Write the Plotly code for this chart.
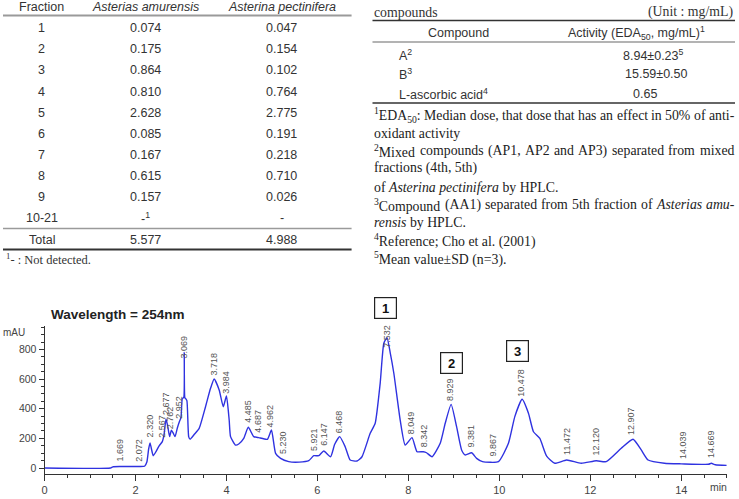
import re
import numpy as np
import plotly.graph_objects as go

W, H = 739, 499

# ---------------- Table 1 data ----------------
t1_header = ["Fraction", "<i>Asterias amurensis</i>", "<i>Asterina pectinifera</i>"]
fractions = ["1", "2", "3", "4", "5", "6", "7", "8", "9", "10-21"]
amurensis = ["0.074", "0.175", "0.864", "0.810", "2.628", "0.085", "0.167", "0.615", "0.157", "-<sup>1</sup>"]
pectinifera = ["0.047", "0.154", "0.102", "0.764", "2.775", "0.191", "0.218", "0.710", "0.026", "-"]
totals = ["Total", "5.577", "4.988"]
t1_note = "<sup>1</sup>- : Not detected."

# ---------------- Table 2 data ----------------
t2_caption = "compounds"
t2_unit = "(Unit : mg/mL)"
t2_header = ["Compound", "Activity (EDA<sub>50</sub>, mg/mL)<sup>1</sup>"]
compounds = ["A<sup>2</sup>", "B<sup>3</sup>", "L-ascorbic acid<sup>4</sup>"]
activities = ["8.94±0.23<sup>5</sup>", "15.59±0.50", "0.65"]
t2_notes = [
    "<sup>1</sup>EDA<sub>50</sub>: Median dose, that dose that has an effect in 50% of anti-",
    "oxidant activity",
    "<sup>2</sup>Mixed compounds (AP1, AP2 and AP3) separated from mixed",
    "fractions (4th, 5th)",
    "of <i>Asterina pectinifera</i> by HPLC.",
    "<sup>3</sup>Compound (AA1) separated from 5th fraction of <i>Asterias amu-</i>",
    "<i>rensis</i> by HPLC.",
    "<sup>4</sup>Reference; Cho et al. (2001)",
    "<sup>5</sup>Mean value±SD (n=3).",
]
t2_justified = [True, False, True, False, False, True, False, False, False]

# ---------------- Chromatogram data ----------------
rt = [0, 1.45, 1.5, 1.67, 2.07, 2.2, 2.25, 2.29, 2.32, 2.35, 2.39, 2.45, 2.52, 2.59, 2.63,
      2.67, 2.71, 2.75, 2.79, 2.83, 2.87, 2.92, 2.97, 3.0, 3.03, 3.06, 3.072, 3.085, 3.1, 3.13,
      3.17, 3.2, 3.3, 3.4, 3.54, 3.65, 3.73, 3.84, 3.93, 4.0, 4.06, 4.09, 4.2, 4.27, 4.38,
      4.48, 4.6, 4.71, 4.9, 4.99, 5.08, 5.19, 5.37, 5.6, 5.81, 5.92, 6.03, 6.14, 6.29, 6.38,
      6.49, 6.61, 6.72, 6.87, 6.98, 7.16, 7.27, 7.38, 7.46, 7.53, 7.6, 7.68, 7.82, 7.93, 8.08,
      8.19, 8.33, 8.4, 8.52, 8.7, 8.81, 8.94, 9.06, 9.17, 9.25, 9.39, 9.5, 9.63, 9.98, 10.2,
      10.34, 10.5, 10.64, 10.75, 10.89, 11.04, 11.22, 11.48, 11.8, 12.13, 12.35, 12.68, 12.94,
      13.12, 13.27, 13.63, 14.0, 14.6, 14.66, 14.75, 15.0]
mau = [0, 0, 8, 10, 10, 12, 40, 130, 170, 130, 83, 110, 150, 178, 230,
       331, 280, 212, 255, 235, 212, 270, 317, 340, 470, 475, 780, 475, 470, 455,
       210, 195, 230, 268, 414, 538, 601, 527, 414, 486, 324, 212, 155, 162, 200,
       275, 212, 205, 194, 257, 99, 65, 43, 40, 50, 83, 83, 115, 76, 160,
       212, 144, 54, 47, 76, 234, 302, 572, 843, 880, 780, 640, 324, 155, 205,
       110, 110, 103, 76, 167, 302, 430, 279, 122, 88, 103, 65, 43, 43, 167,
       347, 464, 370, 245, 200, 80, 32, 54, 32, 49, 43, 133, 194,
       122, 54, 32, 28, 25, 32, 22, 18]
peak_rt = [1.669, 2.072, 2.320, 2.567, 2.677, 2.762, 2.952, 3.069, 3.718, 3.984, 4.485,
           4.687, 4.962, 5.230, 5.921, 6.147, 6.468, 7.532, 8.049, 8.342, 8.929, 9.381,
           9.867, 10.478, 11.472, 12.120, 12.907, 14.039, 14.669]
peak_lbl = ["1.669", "2.072", "2.320", "2.567", "2.677", "2.762", "2.952", "3.069", "3.718",
            "3.984", "4.485", "4.687", "4.962", "5.230", "5.921", "6.147", "6.468", "7.532",
            "8.049", "8.342", "8.929", "9.381", "9.867", "10.478", "11.472", "12.120",
            "12.907", "14.039", "14.669"]
box_labels = ["1", "2", "3"]
x_ticks = [0, 2, 4, 6, 8, 10, 12, 14]
y_ticks = [0, 200, 400, 600, 800]


def px(x):
    return x / W


def py(y):
    return 1 - y / H


SANS = "Liberation Sans, Arial, sans-serif"
SERIF = "Liberation Serif, Times New Roman, serif"
anns = []
shapes = []


def txt(x, y, s, size=12.5, color="#333", family=SANS, xanchor="center", **kw):
    anns.append(dict(x=px(x), y=py(y), xref="paper", yref="paper", text=s, showarrow=False,
                     xanchor=xanchor, yanchor="middle",
                     font=dict(size=size, color=color, family=family), **kw))


def hline(x0, x1, y, color="#888", width=1.5):
    shapes.append(dict(type="line", xref="paper", yref="paper", x0=px(x0), x1=px(x1),
                       y0=py(y), y1=py(y), line=dict(color=color, width=width)))


# Times-like advance widths (per 1000 em) for laying out justified lines
_TW = {' ': 250, '(': 333, ')': 333, ',': 250, '-': 333, '.': 250, ':': 278, ';': 278,
       '%': 833, '±': 564, '=': 564}
for c in '0123456789':
    _TW[c] = 500
_TW.update(dict(A=722, B=667, C=667, D=722, E=611, F=556, H=722, L=611, M=889, P=556, S=556))
_TW.update(dict(a=444, b=500, c=444, d=500, e=444, f=333, g=500, h=500, i=278, k=500, l=278,
                m=778, n=500, o=500, p=500, r=333, s=389, t=278, u=500, v=500, w=722, x=500,
                y=500))


def text_width(s, size):
    w = 0.0
    for part in re.split(r"(<sup>.*?</sup>|<sub>.*?</sub>)", s):
        scale = 1.0
        if part.startswith("<sup>") or part.startswith("<sub>"):
            scale = 0.7
        plain = re.sub(r"<[^>]+>", "", part)
        for ch in plain:
            w += _TW.get(ch, 500) * scale
    return w * size / 1000.0


def justify(x0, x1, y, s, size, color, family):
    # keep italic tags balanced per word
    words = s.split(" ")
    fixed = []
    in_i = False
    for wd in words:
        starts = in_i
        if "<i>" in wd:
            in_i = True
        if "</i>" in wd:
            in_i = False
        w2 = wd
        if starts and "<i>" not in wd:
            w2 = "<i>" + w2
        if in_i and "</i>" not in wd:
            w2 = w2 + "</i>"
        fixed.append(w2)
    widths = [text_width(w, size) for w in fixed]
    gap = (x1 - x0 - sum(widths)) / max(len(fixed) - 1, 1)
    cur = x0
    for wd, wdt in zip(fixed, widths):
        txt(cur - 1, y, wd, size=size, family=family, xanchor="left", color=color)
        cur += wdt + gap


# ---- Table 1 ----
col_x = [39, 143, 280]
for cx, h in zip(col_x, t1_header):
    txt(cx, 7.5, h)
hline(0, 350, 15.5, "#9a9a9a", 1.8)
for i in range(len(fractions)):
    yy = 28.3 + 21.1 * i
    txt(col_x[0], yy, fractions[i])
    txt(col_x[1], yy, amurensis[i])
    txt(col_x[2], yy, pectinifera[i])
hline(0, 350, 228.5, "#9a9a9a", 1.5)
for cx, s in zip(col_x, totals):
    txt(cx, 239.5, s)
hline(0, 350, 249.5, "#333", 2)
txt(1, 258.5, t1_note, size=12.5, family=SERIF, xanchor="left", color="#333")

# ---- Table 2 ----
NS = 13.8
txt(371, 12, t2_caption, size=NS, family=SERIF, xanchor="left")
txt(735, 12, t2_unit, size=NS, family=SERIF, xanchor="right")
hline(371, 735, 20.5, "#333", 1.6)
txt(457, 33, t2_header[0])
txt(636, 33, t2_header[1])
hline(371, 735, 42, "#9a9a9a", 1.5)
act_x = [653, 656, 645]
for i in range(len(compounds)):
    yy = 55 + 19.5 * i
    txt(396, yy, compounds[i], xanchor="left")
    txt(act_x[i], yy, activities[i])
hline(371, 735, 103, "#333", 1.6)
note_y = [115, 133.5, 150.5, 168.5, 187, 204.5, 222.5, 240, 258]
for yy, s, j in zip(note_y, t2_notes, t2_justified):
    if j:
        justify(372, 733, yy, s, NS, "#222", SERIF)
    else:
        txt(371, yy, s, size=NS, family=SERIF, xanchor="left", color="#222")

# ---- Chromatogram ----
fig = go.Figure()
fig.add_trace(go.Scatter(x=rt, y=mau, mode="lines", hoverinfo="skip",
                         line=dict(color="#2f32e0", width=1.4, shape="spline", smoothing=0.5)))

peak_y = np.interp(peak_rt, rt, mau)
for xr, yv, lab in zip(peak_rt, peak_y, peak_lbl):
    shift = -12 if yv > 820 else 3
    anns.append(dict(x=xr, y=float(yv), xref="x", yref="y", text=lab, showarrow=False,
                     textangle=-90, xanchor="center", yanchor="bottom", yshift=shift,
                     font=dict(size=9, color="#555",
                               family="Liberation Sans Narrow, Arial Narrow, Liberation Sans, Arial")))

box_pos = [(384.3, 308.3), (450.5, 362.7), (516.7, 350.5)]
for (bx, by), lab in zip(box_pos, box_labels):
    txt(bx, by, "<b>" + lab + "</b>", size=13, color="#111", bordercolor="#222",
        borderwidth=1.2, borderpad=2, bgcolor="white", width=17, height=16)

txt(46, 314, "<b>Wavelength = 254nm</b>", size=13.5, color="#222", xanchor="left")
txt(11, 332, "mAU", size=10, color="#444")
txt(718, 487, "min", size=10.5, color="#444")

fig.update_layout(
    width=W, height=H, margin=dict(l=0, r=0, t=0, b=0),
    paper_bgcolor="white", plot_bgcolor="white", showlegend=False,
    annotations=anns, shapes=shapes,
    xaxis=dict(domain=[41.7 / W, 726.7 / W], range=[0, 15], showline=True, linecolor="#333",
               linewidth=1, ticks="outside", ticklen=6, tickcolor="#333", tickvals=x_ticks,
               ticktext=[str(v) for v in x_ticks], showgrid=False, zeroline=False,
               tickfont=dict(size=11, color="#444", family=SANS),
               minor=dict(dtick=0.5, ticks="outside", ticklen=3, tickcolor="#333", showgrid=False),
               anchor="y"),
    yaxis=dict(domain=[1 - 474 / H, 1 - 326 / H], range=[-40.5, 959], showline=True,
               linecolor="#333", linewidth=1, ticks="outside", ticklen=5, tickcolor="#333",
               tickvals=y_ticks, ticktext=[str(v) for v in y_ticks], showgrid=False,
               zeroline=False, tickfont=dict(size=10.5, color="#444", family=SANS),
               minor=dict(dtick=50, ticks="outside", ticklen=3, tickcolor="#333", showgrid=False),
               anchor="x"),
)

fig.write_html("out.html")
